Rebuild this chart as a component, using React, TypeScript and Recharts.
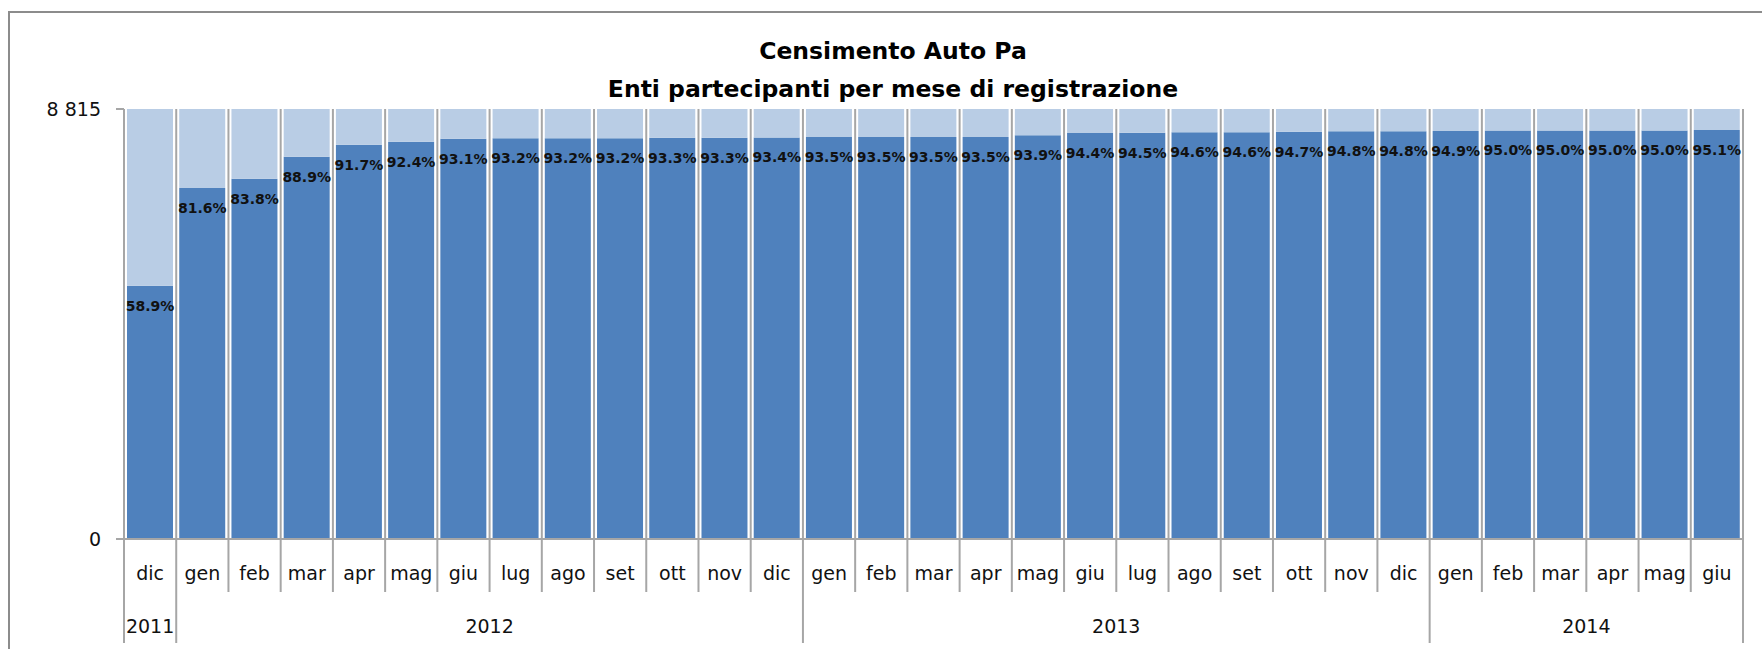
import React from "react";
import { BarChart, Bar, XAxis, YAxis, CartesianGrid, LabelList } from "recharts";

const months = [
  "dic",
  "gen", "feb", "mar", "apr", "mag", "giu", "lug", "ago", "set", "ott", "nov", "dic",
  "gen", "feb", "mar", "apr", "mag", "giu", "lug", "ago", "set", "ott", "nov", "dic",
  "gen", "feb", "mar", "apr", "mag", "giu",
];

// share of registered entities (%)
const pcts = [
  58.9,
  81.6, 83.8, 88.9, 91.7, 92.4, 93.1, 93.2, 93.2, 93.2, 93.3, 93.3, 93.4,
  93.5, 93.5, 93.5, 93.5, 93.9, 94.4, 94.5, 94.6, 94.6, 94.7, 94.8, 94.8,
  94.9, 95.0, 95.0, 95.0, 95.0, 95.1,
];

const yearLabels = ["2011", "2012", "2013", "2014"];
const yearCounts = [1, 12, 12, 6];

const TOTAL = 8815;
const yTicks = [0, TOTAL];

const data = months.map((m, i) => {
  const enti = (TOTAL * pcts[i]) / 100;
  return { month: m, enti, resto: TOTAL - enti, pct: pcts[i] };
});

const W = 1762;
const H = 649;
const PLOT_LEFT = 124;
const PLOT_RIGHT = 1743;
const PLOT_TOP = 109;
const PLOT_BOTTOM = 539;
const BAND = (PLOT_RIGHT - PLOT_LEFT) / months.length;

const DARK = "#4F81BD";
const LIGHT = "#B9CDE5";
const GRID = "#A6A6A6";
const FONT = "'DejaVu Sans', sans-serif";

const groupStarts: number[] = [];
yearCounts.reduce((acc, c) => {
  groupStarts.push(acc);
  return acc + c;
}, 0);

const fmtThousands = (v: number) => String(v).replace(/\B(?=(\d{3})+(?!\d))/g, " ");

const MonthTick = (props: any) => {
  const { x, y, index, payload } = props;
  const left = x - BAND / 2;
  const g = groupStarts.indexOf(index);
  const isLast = index === months.length - 1;
  return (
    <g>
      <line x1={left} x2={left} y1={y} y2={y + (g >= 0 ? 104 : 53)} stroke={GRID} strokeWidth={2} />
      {isLast && (
        <line x1={x + BAND / 2} x2={x + BAND / 2} y1={y} y2={y + 104} stroke={GRID} strokeWidth={2} />
      )}
      <text x={x} y={y + 34} textAnchor="middle" dominantBaseline="central" fontFamily={FONT} fontSize={19} fill="#111">
        {payload.value}
      </text>
      {g >= 0 && (
        <text
          x={left + (yearCounts[g] * BAND) / 2}
          y={y + 87}
          textAnchor="middle"
          dominantBaseline="central"
          fontFamily={FONT}
          fontSize={19}
          fill="#111"
        >
          {yearLabels[g]}
        </text>
      )}
    </g>
  );
};

export default function App() {
  return (
    <div style={{ position: "relative", width: W, height: H, background: "#fff", overflow: "hidden" }}>
      <style>{"body{margin:0}"}</style>
      {/* chart frame */}
      <div
        style={{
          position: "absolute",
          left: 8,
          top: 11,
          width: W,
          height: H,
          borderLeft: "2px solid #8c8c8c",
          borderTop: "2px solid #8c8c8c",
        }}
      />
      <div
        style={{
          position: "absolute",
          left: 0,
          width: 1786,
          top: 32,
          textAlign: "center",
          fontFamily: FONT,
          fontWeight: "bold",
          fontSize: 23.5,
          lineHeight: "38px",
          color: "#000",
        }}
      >
        <div>Censimento Auto Pa</div>
        <div>Enti partecipanti per mese di registrazione</div>
      </div>
      <div style={{ position: "absolute", left: 0, top: 0 }}>
        <BarChart
          width={W}
          height={H}
          data={data}
          barCategoryGap={3}
          margin={{ top: PLOT_TOP, right: W - PLOT_RIGHT, bottom: 0, left: 8 }}
        >
          <CartesianGrid
            horizontal={false}
            stroke={GRID}
            strokeWidth={2}
            verticalCoordinatesGenerator={({ offset }: any) =>
              months.map((_, i) => offset.left + (i * offset.width) / months.length).concat(offset.left + offset.width)
            }
          />
          <XAxis
            dataKey="month"
            interval={0}
            height={H - PLOT_BOTTOM}
            tickSize={0}
            tickMargin={0}
            tickLine={false}
            axisLine={{ stroke: GRID, strokeWidth: 2 }}
            tick={<MonthTick />}
          />
          <YAxis
            width={PLOT_LEFT - 8}
            domain={[0, TOTAL]}
            ticks={yTicks}
            tickFormatter={fmtThousands}
            axisLine={false}
            tickLine={{ stroke: GRID, strokeWidth: 2 }}
            tickSize={8}
            tickMargin={15}
            tick={{ fontFamily: FONT, fontSize: 19, fill: "#111" }}
          />
          <Bar dataKey="enti" stackId="a" fill={DARK} isAnimationActive={false}>
            <LabelList
              dataKey="pct"
              position="insideTop"
              offset={15}
              formatter={(v: any) => `${Number(v).toFixed(1)}%`}
              style={{ fontFamily: FONT, fontSize: 14, fontWeight: "bold", fill: "#111" }}
            />
          </Bar>
          <Bar dataKey="resto" stackId="a" fill={LIGHT} isAnimationActive={false} />
        </BarChart>
      </div>
    </div>
  );
}
